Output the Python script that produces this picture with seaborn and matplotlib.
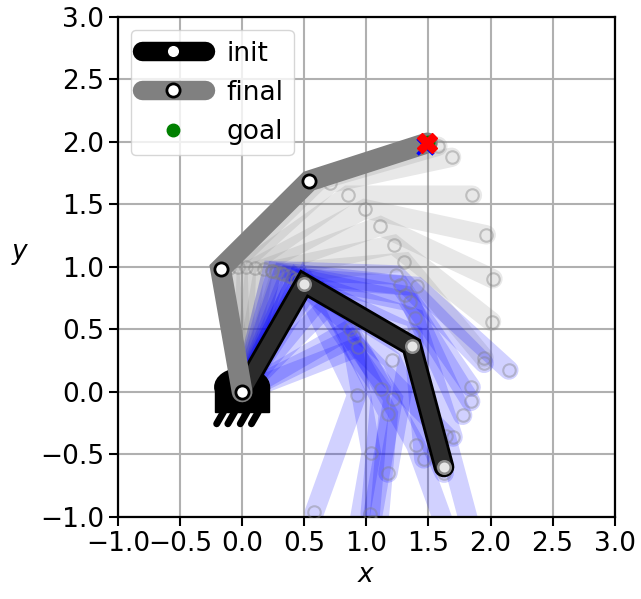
"""
3-link planar arm: init pose, final pose reaching the goal, and the
intermediate poses of the solver (blue = early iterations, gray = late).
"""
import numpy as np
import pandas as pd
import matplotlib
matplotlib.use("Agg")
import matplotlib.pyplot as plt
from matplotlib.patches import Rectangle, Ellipse
from matplotlib.lines import Line2D
import seaborn as sns

# --- data (absolute link angles in degrees, link lengths in m) ---------
LINK_LEN = np.array([1.0, 1.0, 1.0])
INIT_ANGLES = [60, -30, -75]
FINAL_ANGLES = [100, 44.6, 17.7]
GOAL = [1.5, 2.0]
TARGET_MARK = [1.47, 1.97]     # blue x under the red one

# early iterations (drawn blue)
BLUE_ANGLES = [
    (76, -2, -45), (74, -6, -55), (71, -10, -58), (68, -12, -65),
    (66, -4, -42), (64, -18, -72), (62, -25, -85), (60, -32, -100),
    (57, -55, -95), (61, -64, -110), (50, -55, -100), (45, -62, -95),
    (30, -80, -100), (26, -60, -70), (21, -45, -75), (64, -40, -65),
]
# late iterations (drawn light gray)
GRAY_ANGLES = [
    (96, 44, 16), (92, 42, 12), (88, 35, 0), (84, 28, -12),
    (80, 20, -25), (76, 12, -38), (72, 5, -50),
]

XLIM = (-1.0, 3.0)
YLIM = (-1.0, 3.0)
TICKS = np.arange(-1.0, 3.01, 0.5)

sns.set_style("ticks")
plt.rcParams.update({
    "font.size": 19,
    "axes.linewidth": 1.6,
    "xtick.major.size": 6.5, "ytick.major.size": 6.5,
    "xtick.major.width": 1.5, "ytick.major.width": 1.5,
    "axes.edgecolor": "black",
    "xtick.color": "black", "ytick.color": "black",
    "axes.labelcolor": "black", "text.color": "black",
})
plt.rcParams["font.family"] = ["DejaVu Sans"]


def fk(angles):
    th = np.radians(angles)
    x = np.concatenate([[0.0], np.cumsum(LINK_LEN * np.cos(th))])
    y = np.concatenate([[0.0], np.cumsum(LINK_LEN * np.sin(th))])
    return x, y


def poses_df(angle_list):
    rows = []
    for k, ang in enumerate(angle_list):
        xs, ys = fk(ang)
        for j, (x, y) in enumerate(zip(xs, ys)):
            rows.append({"cfg": k, "joint": j, "x": x, "y": y})
    return pd.DataFrame(rows)


LINK_KW = dict(solid_capstyle="round", solid_joinstyle="miter")
LW = 15

fig = plt.figure(figsize=(6.41, 5.99), dpi=100)
ax = fig.add_axes([0.184, 0.137, 0.775, 0.835])
ax.grid(True, color="#b0b0b0", lw=1.5, zorder=0)
ax.set_axisbelow(True)

# intermediate poses
df_blue = poses_df(BLUE_ANGLES)
df_gray = poses_df(GRAY_ANGLES)
for df, col in [(df_gray, "gray"), (df_blue, "blue")]:
    for _, g in df.groupby("cfg"):
        ax.plot(g["x"], g["y"], color=col, alpha=0.18, linewidth=LW - 1, zorder=2, **LINK_KW)
    j = df[df["joint"] > 0]
    ax.plot(j["x"], j["y"], ls="none", marker="o", ms=9, mfc="none",
            mec="gray", mew=1.5, alpha=0.4, zorder=3)

# robot base
ax.add_patch(Rectangle((-0.22, -0.16), 0.44, 0.2, color="black", zorder=4))
ax.add_patch(Ellipse((0.0, 0.04), 0.44, 0.3, color="black", zorder=4))
for xt in [-0.15, -0.06, 0.04, 0.13]:
    ax.plot([xt, xt - 0.055], [-0.16, -0.255], color="black", lw=5,
            solid_capstyle="round", zorder=4)

# init pose
df_init = poses_df([INIT_ANGLES])
sns.lineplot(data=df_init, x="x", y="y", estimator=None, sort=False, color="black",
             linewidth=LW, ax=ax, legend=False, zorder=5, **LINK_KW)
sns.lineplot(data=df_init, x="x", y="y", estimator=None, sort=False, color="#2b2b2b",
             linewidth=LW - 4, ax=ax, legend=False, zorder=5, **LINK_KW)
ji = df_init[df_init["joint"] > 0]
ax.plot(ji["x"], ji["y"], ls="none", marker="o", ms=9, mfc="#e6e6e6",
        mec="#8c8c8c", mew=1.8, zorder=6)

# final pose
df_final = poses_df([FINAL_ANGLES])
sns.lineplot(data=df_final, x="x", y="y", estimator=None, sort=False, color="gray",
             linewidth=LW, ax=ax, legend=False, zorder=7, **LINK_KW)
jf = df_final[df_final["joint"] < 3]
ax.plot(jf["x"], jf["y"], ls="none", marker="o", ms=9.5, mfc="white",
        mec="black", mew=2, zorder=8)

# goal and end-effector marks
ee = df_final[df_final["joint"] == 3]
ax.plot(*GOAL, ls="none", marker="o", color="green", ms=9, zorder=9)
ax.plot(*TARGET_MARK, ls="none", marker="x", color="blue", ms=11, mew=2.5, zorder=10)
ax.plot(ee["x"], ee["y"], ls="none", marker="X", color="red", ms=14, mec="red", zorder=11)

ax.set_xlim(*XLIM)
ax.set_ylim(*YLIM)
ax.set_xticks(TICKS)
ax.set_yticks(TICKS)
ax.set_xlabel("$x$")
ax.set_ylabel("$y$", rotation=0, labelpad=14)
for s in ax.spines.values():
    s.set_visible(True)

handles = [
    Line2D([], [], color="black", lw=14, solid_capstyle="round",
           marker="o", ms=9, mfc="white", mec="black"),
    Line2D([], [], color="gray", lw=14, solid_capstyle="round",
           marker="o", ms=9.5, mfc="white", mec="black", mew=2),
    Line2D([], [], ls="none", marker="o", color="green", ms=9),
]
ax.legend(handles, ["init", "final", "goal"], loc="upper left", handlelength=2.4,
          fontsize=19, framealpha=0.8, edgecolor="0.8", fancybox=True)

fig.savefig("out.png", dpi=100)
